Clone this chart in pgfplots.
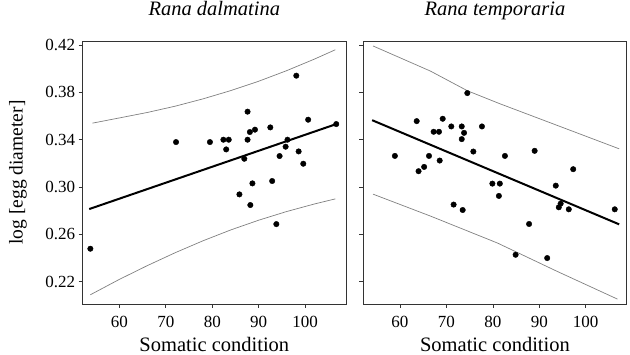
\documentclass[border=0pt]{standalone}
\usepackage{pgfplots}
\pgfplotsset{compat=1.18}
\usepackage{fontspec}
\setmainfont{Liberation Serif}
\begin{document}
\begin{tikzpicture}
\pgfplotsset{
 frog/.style={
  scale only axis, width=263.3pt, height=263pt,
  xmin=52.1, xmax=108.8, ymin=0.2012, ymax=0.4234,
  xtick={60,70,80,90,100}, ytick={0.22,0.26,0.30,0.34,0.38,0.42},
  tick align=outside, tick pos=left, major tick length=4pt,
  axis line style={black!80, line width=0.9pt},
  every tick/.style={black!80, line width=0.7pt},
  /pgf/number format/assume math mode=true,
  ticklabel style={font=\fontsize{17}{17}\selectfont},
  xticklabel style={anchor=base, yshift=-20pt},
  yticklabel style={/pgf/number format/.cd, fixed, fixed zerofill, precision=2},
  xlabel={Somatic condition},
  xlabel style={font=\fontsize{20.5}{20.5}\selectfont, at={([yshift=-48pt]axis description cs:0.5,0)}, anchor=base},
  title style={font=\itshape\fontsize{20.5}{20.5}\selectfont, at={([yshift=19pt]axis description cs:0.5,1)}, anchor=base},
  band/.style={gray, line width=0.7pt},
  fit/.style={black, line width=2pt},
  pts/.style={only marks, mark=*, mark size=2.75pt, black},
 }
}
\begin{axis}[frog, at={(0pt,0pt)}, anchor=south west,
  title={Rana dalmatina},
  ylabel={log [egg diameter]},
  ylabel style={font=\fontsize{19.5}{19.5}\selectfont, at={([xshift=-60pt]axis description cs:0,0.5)}, anchor=base, rotate=0},
 ]
\addplot[band] coordinates {(54.2,0.3540) (60,0.3584) (66,0.3630) (72,0.3683) (78,0.3745) (84,0.3815) (90,0.3894) (96,0.3983) (102,0.4081) (106.5,0.4160)};
\addplot[band] coordinates {(53.75,0.2090) (60,0.2220) (66,0.2336) (72,0.2445) (78,0.2546) (84,0.2638) (90,0.2720) (96,0.2793) (102,0.2857) (106.5,0.2900)};
\addplot[fit] coordinates {(53.5,0.2814) (106.7,0.3532)};
\addplot[pts] coordinates {
(53.75,0.2479) (72.2,0.3380) (79.5,0.3380) (82.4,0.3400) (83.55,0.3400)
(83.0,0.3318) (86.9,0.3239) (87.6,0.3637) (87.6,0.3400) (88.1,0.3465)
(89.2,0.3485) (85.85,0.2938) (88.65,0.3031) (88.2,0.2848) (92.5,0.3504)
(92.9,0.3051) (93.8,0.2687) (94.5,0.3262) (95.8,0.3341) (96.2,0.3400)
(98.1,0.3941) (98.6,0.3301) (99.6,0.3197) (100.65,0.3569) (106.7,0.3532)};
\end{axis}
\begin{axis}[frog, at={(280.6pt,0pt)}, anchor=south west,
  title={Rana temporaria}, yticklabels={}]
\addplot[band] coordinates {(54.2,0.4192) (66.55,0.3980) (74.5,0.3814) (81.3,0.3707) (95.0,0.3504) (107.2,0.3323)};
\addplot[band] coordinates {(54.2,0.2940) (66.55,0.2755) (81.0,0.2527) (93.6,0.2292) (106.85,0.2053)};
\addplot[fit] coordinates {(54.0,0.3565) (107.2,0.2685)};
\addplot[pts] coordinates {
(58.9,0.3263) (63.6,0.3557) (64.0,0.3134) (65.2,0.3170) (66.25,0.3263)
(67.25,0.3467) (68.4,0.3467) (68.55,0.3224) (69.2,0.3577) (71.05,0.3512)
(71.55,0.2852) (73.3,0.3512) (73.3,0.3405) (73.8,0.3458) (73.5,0.2806)
(74.5,0.3794) (75.8,0.3300) (77.65,0.3512) (79.9,0.3029) (81.5,0.3029)
(81.3,0.2925) (82.6,0.3263) (84.9,0.2428) (87.8,0.2688) (89.0,0.3306)
(91.7,0.2400) (93.55,0.3012) (94.2,0.2829) (94.6,0.2860) (96.35,0.2812)
(97.3,0.3151) (106.25,0.2812)};
\end{axis}
\pgfresetboundingbox
\path (-82.7pt,-51pt) rectangle (547.3pt,304pt);
\end{tikzpicture}
\end{document}
